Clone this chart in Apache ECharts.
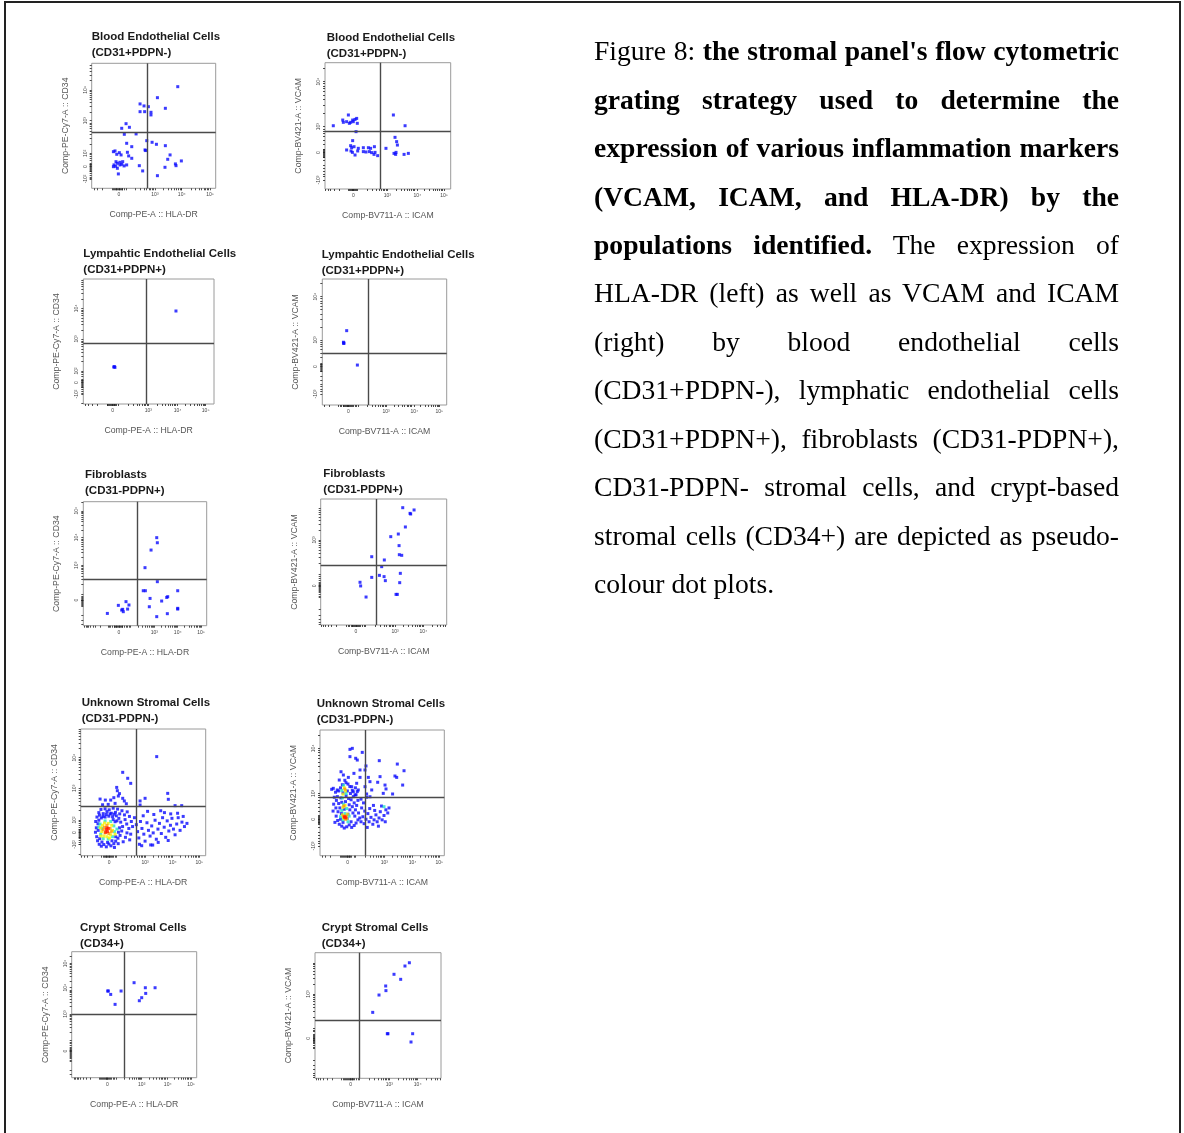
<!DOCTYPE html>
<html><head><meta charset="utf-8">
<script src="https://cdn.jsdelivr.net/npm/echarts@6/dist/echarts.min.js"></script>
<style>
html,body{margin:0;padding:0;background:#fff;}
#chart{position:absolute;left:0;top:0;width:1184px;height:1133px;}
#frame{position:absolute;left:4px;top:1px;width:1173px;height:1160px;border:2px solid #222;pointer-events:none;}
#cap{position:absolute;left:594px;top:27.3px;width:525px;font-family:'Liberation Serif','Times New Roman',serif;font-size:27.6px;color:#000;}
#cap div{height:48.45px;line-height:48.45px;text-align:justify;text-align-last:justify;white-space:nowrap;}
#cap div.last{text-align-last:left;}
</style></head>
<body>
<div id="chart"></div>
<div id="frame"></div>
<div id="cap">
<div>Figure 8: <b>the stromal panel's flow cytometric</b></div>
<div><b>grating strategy used to determine the</b></div>
<div><b>expression of various inflammation markers</b></div>
<div><b>(VCAM, ICAM, and HLA-DR) by the</b></div>
<div><b>populations identified.</b> The expression of</div>
<div>HLA-DR (left) as well as VCAM and ICAM</div>
<div>(right) by blood endothelial cells</div>
<div>(CD31+PDPN-), lymphatic endothelial cells</div>
<div>(CD31+PDPN+), fibroblasts (CD31-PDPN+),</div>
<div>CD31-PDPN- stromal cells, and crypt-based</div>
<div>stromal cells (CD34+) are depicted as pseudo-</div>
<div class="last">colour dot plots.</div>
</div>
<script>
// ---------- DATA (display-scale channel units, 0-100 along each axis) ----------
const labX4 = ['0','10³','10⁴','10⁵'];
const labX3 = ['0','10³','10⁴'];
const labYsmall = ['-10²','0','10²','10³','10⁴'];
const labYbig = ['-10³','0','10³','10⁴'];
const labY0to5 = ['0','10³','10⁴','10⁵'];
const labY2 = ['0','10³'];

// Panel 1: Blood endothelial, HLA-DR vs CD34
const becHlaXTicks = [22, 51, 72.6, 95.4];
const becHlaYTicks = [7.5, 17.3, 28, 54.1, 78.7];
const becHlaGate = [44.9, 44.5];
const becHlaPts = [[69.4,81.3],[53.0,72.5],[59.4,64.0],[39.0,67.5],[42.2,65.9],[45.7,65.3],[39.0,61.3],[42.7,61.3],[47.8,60.8],[47.8,58.7],[27.7,51.7],[24.2,48.0],[30.4,48.8],[26.3,43.2],[35.8,43.5],[44.4,38.1],[48.7,36.8],[52.2,35.2],[59.4,34.1],[28.2,36.0],[32.3,33.3],[43.0,30.7],[18.8,29.9],[17.5,29.3],[22.3,28.5],[20.2,27.2],[23.7,26.7],[28.8,28.8],[63.2,26.7],[61.3,23.2],[67.5,19.5],[72.3,21.9],[68.0,18.1],[32.3,24.0],[19.6,21.3],[22.8,20.8],[25.0,21.3],[20.7,20.0],[24.2,19.2],[18.0,18.7],[19.4,17.6],[22.8,18.7],[26.1,17.9],[28.2,18.7],[38.4,18.1],[41.1,13.9],[59.1,16.8],[17.5,17.3],[20.7,16.0],[21.5,11.5],[53.0,10.1],[29.8,25.9],[43.5,30.2]];

// Panel 2: Blood endothelial, ICAM vs VCAM
const becIcamXTicks = [22.5, 49.6, 73.5, 94.7];
const becIcamYTicks = [7.1, 28.8, 49.3, 85];
const becIcamGate = [44.3, 45.4];
const becIcamPts = [[6.6,50.1],[14.1,54.6],[14.6,52.8],[18.6,58.6],[17.2,53.3],[19.4,52.0],[20.4,52.8],[22.5,53.3],[23.9,55.1],[25.2,55.9],[25.7,52.0],[22.0,54.6],[24.7,45.4],[54.4,58.6],[63.7,50.1],[22.0,38.3],[55.7,40.9],[57.0,37.5],[57.6,34.8],[20.4,34.3],[21.2,32.7],[23.1,33.5],[17.2,30.9],[20.7,30.1],[21.8,29.0],[23.9,26.9],[26.5,32.2],[26.0,30.1],[30.5,32.7],[30.5,29.6],[32.6,29.3],[34.5,32.7],[36.3,32.2],[35.3,29.6],[37.1,28.8],[39.3,33.5],[39.8,29.0],[39.0,27.4],[41.9,26.4],[48.5,32.2],[54.9,28.2],[56.2,27.4],[56.5,29.0],[62.9,27.4],[66.3,28.2]];

// Panel 3: Lymphatic endothelial, HLA-DR vs CD34
const lecHlaXTicks = [22.4, 49.7, 72.2, 93.6];
const lecHlaYTicks = [8, 17.1, 26.4, 52, 76.5];
const lecHlaGate = [48.0, 48.5];
const lecHlaPts = [[70.9,74.4],[23.3,29.6],[23.8,29.9],[24.2,29.3]];

// Panel 4: Lymphatic endothelial, ICAM vs VCAM
const lecIcamXTicks = [20.9, 51.2, 74, 94.1];
const lecIcamYTicks = [8.7, 30.4, 51.6, 86];
const lecIcamGate = [37.0, 41.0];
const lecIcamPts = [[19.6,59.0],[17.0,49.8],[17.4,49.2],[17.2,48.8],[28.2,31.7]];

// Panel 5: Fibroblasts, HLA-DR vs CD34
const fibHlaXTicks = [28.9, 57.6, 76.5, 95.4];
const fibHlaYTicks = [20.7, 48.7, 71.2, 92.7];
const fibHlaGate = [44.1, 37.6];
const fibHlaPts = [[59.5,71.0],[60.0,66.9],[54.9,61.0],[50.0,46.8],[60.0,35.5],[48.6,28.2],[50.3,28.2],[76.5,28.2],[68.4,23.4],[67.6,22.8],[54.1,22.0],[63.5,19.9],[53.5,15.3],[76.5,14.0],[76.5,13.4],[68.1,9.7],[59.5,7.3],[34.6,19.4],[28.4,16.4],[37.0,16.7],[31.9,13.2],[32.4,11.3],[35.9,13.4],[19.5,9.9],[31.1,12.6]];

// Panel 6: Fibroblasts, ICAM vs VCAM
const fibIcamXTicks = [28.0, 59.0, 81.5];
const fibIcamYTicks = [31.0, 67.5];
const fibIcamGate = [43.7, 47.4];
const fibIcamPts = [[65.1,93.1],[74.1,91.3],[70.9,88.6],[71.4,88.1],[67.2,77.8],[61.6,72.2],[55.6,70.1],[62.2,63.0],[62.4,55.8],[64.3,55.3],[40.5,54.2],[50.5,51.6],[48.4,46.3],[46.6,39.4],[40.5,37.8],[50.3,38.4],[51.3,35.2],[63.2,41.0],[62.7,33.6],[31.2,33.9],[31.7,31.0],[36.0,22.2],[59.8,24.3],[60.8,24.3]];

// Panel 7: Unknown stromal, HLA-DR vs CD34 (pseudo-colour density levels)
const uscHlaXTicks = [22.7, 51.5, 73.6, 94.9];
const uscHlaYTicks = [8.9, 18.2, 28.2, 53.2, 77.4];
const uscHlaGate = [44.8, 38.7];
const uscHlaBlue = [[60.8,78.2],[33.6,65.8],[37.6,61.1],[40.0,57.1],[28.8,53.9],[29.3,51.3],[30.1,47.1],[33.6,45.3],[15.5,44.7],[19.7,43.9],[24.0,43.9],[34.9,43.2],[27.5,41.3],[47.5,43.2],[51.5,45.3],[69.6,49.2],[70.1,44.5],[75.5,39.5],[80.8,39.5],[26.5,45.8],[31.0,49.0],[22.0,40.5],[36.5,41.0],[17.5,40.2],[47.5,40.0],
[13.0,30.5],[14.5,34.0],[16.2,36.5],[18.0,33.2],[19.5,37.0],[21.0,34.8],[22.8,36.2],[24.5,33.5],[26.0,37.5],[27.8,34.2],[29.5,36.8],[31.2,33.0],[33.0,35.5],[35.0,32.2],[37.2,34.6],[39.0,31.0],
[12.0,27.0],[13.8,25.2],[12.5,22.0],[11.8,18.5],[12.8,15.0],[13.5,11.8],[14.8,9.0],[16.5,7.5],[18.5,8.8],[20.5,7.0],[22.5,9.2],[24.2,7.8],[26.5,9.5],[28.0,11.5],[29.8,13.8],[31.5,16.0],[32.8,19.5],[33.5,23.0],[32.0,26.5],[30.5,29.5],[28.5,31.5],[25.5,30.8],[22.5,31.2],[19.5,30.5],[16.5,29.8],[14.5,28.0],
[35.5,28.5],[36.8,25.0],[38.5,21.5],[37.0,18.0],[35.8,14.5],[34.0,11.0],[30.0,9.5],[27.0,6.5],[40.5,27.0],[41.5,23.0],[40.0,17.0],[39.2,12.5],
[15.0,32.0],[17.8,31.0],[20.5,32.5],[23.5,33.0],[26.8,32.8],[29.0,27.5],[31.0,22.0],[30.2,18.5],[27.5,26.8],[14.0,20.0],[15.2,13.5],[17.0,10.8],[21.5,10.5],[25.0,11.8],[28.0,15.0],[26.0,28.5],
[43.0,30.0],[44.5,24.5],[45.5,19.0],[46.5,14.0],[47.8,27.0],[49.0,21.5],[50.5,17.0],[51.5,11.5],[53.0,26.0],[54.2,20.0],[55.5,15.5],[56.8,23.5],[58.0,18.0],[59.5,28.0],[60.5,13.0],[61.8,21.0],[63.0,25.5],[64.5,17.5],[65.5,30.0],[66.8,22.5],[68.0,14.5],[69.2,27.5],[70.5,19.5],[71.8,24.0],[73.0,29.5],[74.2,21.0],[75.5,16.5],[76.8,25.0],[78.0,30.0],[79.5,20.0],[81.0,26.5],[83.0,23.0],[85.0,25.5],[72.0,33.0],[67.0,34.0],[58.5,32.5],[50.0,31.5],[62.0,10.5],[56.0,8.5],[47.0,9.0],[70.0,12.0],[77.5,33.5],[82.0,31.0],[64.0,35.5],[53.5,35.0],[48.8,7.9],[57.6,8.4]];
const uscHlaCyan = [[15.5,25.0],[17.0,21.5],[16.0,17.0],[18.0,13.5],[22.0,13.0],[25.5,15.0],[27.0,19.0],[26.5,23.5],[24.0,27.0],[19.5,27.5],[29.0,21.0],[14.5,22.5]];
const uscHlaYellow = [[17.5,24.0],[16.8,19.0],[18.5,15.5],[21.0,15.0],[24.0,16.5],[25.5,20.0],[24.8,24.0],[22.0,25.5],[19.0,25.8],[23.0,14.0],[16.0,15.5],[27.5,17.0],[15.8,22.0]];
const uscHlaOrange = [[19.0,22.5],[19.5,18.0],[22.5,17.5],[23.5,21.5],[21.0,24.0],[18.0,20.5],[24.5,19.0]];
const uscHlaRed = [[20.5,20.5],[21.5,19.0],[22.0,21.5],[20.0,18.5],[21.0,22.0]];

// Panel 8: Unknown stromal, ICAM vs VCAM
const uscIcamXTicks = [22.3, 51.7, 74.5, 96];
const uscIcamYTicks = [7.7, 28.9, 49.6, 85.4];
const uscIcamGate = [36.5, 46.4];
const uscIcamBlue = [[24.1,84.6],[26.0,85.4],[34.0,82.2],[24.1,78.8],[28.7,77.5],[30.0,76.1],[47.7,75.6],[62.2,72.9],[67.6,67.6],[60.3,63.4],[61.7,62.3],[37.0,71.4],[36.2,68.2],[32.2,68.2],[27.3,65.5],[16.9,66.8],[18.8,64.2],[22.8,62.3],[32.2,62.3],[38.9,62.3],[40.2,58.9],[46.4,58.4],[48.3,62.9],[52.3,56.2],[53.1,53.1],[58.4,49.1],[66.5,56.2],[50.9,49.6],[41.6,52.3],[36.2,54.9],[40.2,46.9],[37.5,49.1],[29.5,57.6],[30.8,52.3],[28.2,48.3],[10.7,53.6],[9.4,52.8],[13.9,52.3],[15.5,60.2],[20.9,58.1],[25.5,54.9],[26.8,50.9],
[12.5,50.5],[14.0,47.0],[13.2,44.0],[15.0,41.5],[12.8,38.0],[14.5,35.0],[13.0,31.5],[14.2,28.0],[15.5,25.0],[17.5,23.5],[19.5,22.0],[21.5,23.0],[23.5,24.5],[25.5,22.5],[27.5,24.0],[29.0,26.0],[30.5,28.5],[28.0,31.5],[26.5,34.0],[28.5,36.5],[26.0,39.0],[27.5,42.0],[25.0,44.5],[26.8,47.0],[24.5,49.5],[26.0,52.0],[24.0,55.0],[22.5,57.0],[18.0,56.5],[16.5,54.0],[15.0,51.5],[16.8,46.0],[17.5,42.5],[16.0,38.0],[17.2,33.5],[16.5,29.0],[23.5,40.5],[24.0,36.5],[22.5,33.0],[23.0,45.5],[21.0,47.5],[20.5,43.0],[19.5,37.0],[21.8,29.5],[18.5,26.5],[25.0,27.0],[11.5,46.5],[11.0,41.0],[10.5,35.5],[12.0,26.5],[29.5,40.0],[30.5,44.0],[29.0,48.5],[31.0,34.0],[32.0,30.0],[20.0,60.0],[22.0,51.5],[18.5,50.0],[28.5,54.0],[30.0,51.0],
[33.0,27.0],[34.5,31.0],[35.5,25.5],[37.0,29.0],[38.5,33.5],[39.5,27.0],[41.0,30.5],[42.5,25.0],[43.5,28.5],[45.0,32.5],[46.0,27.0],[47.5,30.0],[48.5,35.0],[50.0,28.5],[51.5,32.0],[53.0,36.5],[54.5,34.0],[55.5,38.0],[52.5,27.0],[44.0,36.0],[40.0,37.5],[36.0,35.5],[33.5,38.0],[47.0,23.5],[38.0,22.5],[49.5,39.5],[43.0,40.0],[35.0,42.0],[33.0,45.0],[37.5,46.5]];
const uscIcamCyan = [[19.0,56.0],[17.5,52.0],[21.0,49.5],[18.0,46.0],[19.0,41.0],[21.5,37.5],[17.5,36.0],[16.5,31.0],[23.5,31.5],[18.5,28.5],[22.5,27.0],[51.5,39.0],[20.0,33.5]];
const uscIcamYellow = [[19.5,54.0],[20.5,51.5],[18.5,49.0],[20.2,40.0],[18.5,38.5],[18.0,32.5],[22.0,33.0],[21.5,29.5],[19.0,30.0]];
const uscIcamOrange = [[20.0,53.0],[19.2,39.5],[19.0,31.5],[21.0,31.5],[20.5,29.0]];
const uscIcamRed = [[20.0,31.0],[20.8,30.2],[19.6,30.6]];

// Panel 9: Crypt stromal, HLA-DR vs CD34
const cscHlaXTicks = [28.5, 56, 76.8, 95.5];
const cscHlaYTicks = [21.2, 50.5, 71.4, 90.7];
const cscHlaGate = [42.1, 50.3];
const cscHlaPts = [[28.8,68.8],[29.3,68.8],[31.2,66.1],[39.5,68.8],[34.7,58.2],[49.9,75.4],[58.9,71.4],[66.7,71.4],[59.2,66.9],[56.0,63.5],[54.1,61.1]];

// Panel 10: Crypt stromal, ICAM vs VCAM
const cscIcamXTicks = [28.3, 59.0, 81.5];
const cscIcamYTicks = [31.8, 67.1];
const cscIcamGate = [35.2, 46.4];
const cscIcamPts = [[74.9,92.0],[71.4,89.4],[62.7,82.8],[68.0,78.8],[56.1,73.5],[56.3,69.8],[50.8,66.3],[45.8,52.5],[57.4,35.5],[57.9,35.5],[77.5,35.5],[76.2,28.9]];

// ---------- LAYOUT ----------
const HLA = 'Comp-PE-A :: HLA-DR', CD34 = 'Comp-PE-Cy7-A :: CD34';
const ICAM = 'Comp-BV711-A :: ICAM', VCAM = 'Comp-BV421-A :: VCAM';
const panels = [
 {t:'Blood Endothelial Cells\n(CD31+PDPN-)', tl:[91.7,36.7], g:[91.7,63.3,124,125], xn:HLA, yn:CD34, xt:becHlaXTicks, xl:labX4, yt:becHlaYTicks, yl:labYsmall, gate:becHlaGate, s:[becHlaPts]},
 {t:'Blood Endothelial Cells\n(CD31+PDPN-)', tl:[326.7,38.3], g:[325,62.7,125.7,126.3], xn:ICAM, yn:VCAM, xt:becIcamXTicks, xl:labX4, yt:becIcamYTicks, yl:labYbig, gate:becIcamGate, s:[becIcamPts]},
 {t:'Lympahtic Endothelial Cells\n(CD31+PDPN+)', tl:[83.3,254], g:[83.3,279,130.7,125], xn:HLA, yn:CD34, xt:lecHlaXTicks, xl:labX4, yt:lecHlaYTicks, yl:labYsmall, gate:lecHlaGate, s:[lecHlaPts]},
 {t:'Lympahtic Endothelial Cells\n(CD31+PDPN+)', tl:[321.7,255], g:[322.3,279,124.4,126], xn:ICAM, yn:VCAM, xt:lecIcamXTicks, xl:labX4, yt:lecIcamYTicks, yl:labYbig, gate:lecIcamGate, s:[lecIcamPts]},
 {t:'Fibroblasts\n(CD31-PDPN+)', tl:[85,475], g:[83.3,501.7,123.4,124], xn:HLA, yn:CD34, xt:fibHlaXTicks, xl:labX4, yt:fibHlaYTicks, yl:labY0to5, gate:fibHlaGate, s:[fibHlaPts]},
 {t:'Fibroblasts\n(CD31-PDPN+)', tl:[323.3,474], g:[320.7,499,126,126], xn:ICAM, yn:VCAM, xt:fibIcamXTicks, xl:labX3, yt:fibIcamYTicks, yl:labY2, gate:fibIcamGate, s:[fibIcamPts]},
 {t:'Unknown Stromal Cells\n(CD31-PDPN-)', tl:[81.7,703.3], g:[80.7,729,125,126.7], xn:HLA, yn:CD34, xt:uscHlaXTicks, xl:labX4, yt:uscHlaYTicks, yl:labYsmall, gate:uscHlaGate, s:[uscHlaBlue,uscHlaCyan,uscHlaYellow,uscHlaOrange,uscHlaRed]},
 {t:'Unknown Stromal Cells\n(CD31-PDPN-)', tl:[316.7,704], g:[320,730,124.3,125.7], xn:ICAM, yn:VCAM, xt:uscIcamXTicks, xl:labX4, yt:uscIcamYTicks, yl:labYbig, gate:uscIcamGate, s:[uscIcamBlue,uscIcamCyan,uscIcamYellow,uscIcamOrange,uscIcamRed]},
 {t:'Crypt Stromal Cells\n(CD34+)', tl:[80,928.3], g:[71.7,951.7,125,126], xn:HLA, yn:CD34, xt:cscHlaXTicks, xl:labX4, yt:cscHlaYTicks, yl:labY0to5, gate:cscHlaGate, s:[cscHlaPts]},
 {t:'Crypt Stromal Cells\n(CD34+)', tl:[321.7,928.3], g:[315,952.7,126,125.6], xn:ICAM, yn:VCAM, xt:cscIcamXTicks, xl:labX3, yt:cscIcamYTicks, yl:labY2, gate:cscIcamGate, s:[cscIcamPts]}
];
const densityColors = ['#0a0aff','#22e0c8','#f2f200','#ff9a00','#ff1a00'];

function tickSet(majors, labels){
  const vals = majors.slice();
  const dec = [];
  labels.forEach((l,i)=>{ if (/^10/.test(l)) dec.push(majors[i]); });
  const zi = labels.indexOf('0');
  const z = majors[zi];
  let w = 26;
  if (dec.length >= 2) w = (dec[dec.length-1]-dec[0])/(dec.length-1);
  const first = dec.length ? dec[0] : z + 28;
  for (let k=-3;k<=3;k++){
    const base = first + k*w;
    for (let m=2;m<=9;m++){
      const v = base + w*Math.log10(m);
      if (v > z+4 && v < 100) { vals.push(v); const nv = 2*z - v; if (nv > 0 && nv < z-4) vals.push(nv); }
    }
  }
  for (let v = z-4; v <= z+3.5; v += 0.7) if (v>0) vals.push(v);
  return vals;
}
function labeler(majors, labels){
  return function(v){
    let bi=-1, bd=1e9;
    majors.forEach((m,i)=>{const d=Math.abs(m-v); if(d<bd){bd=d;bi=i;}});
    return bd < 0.01 ? labels[bi] : '';
  };
}

const option = {animation:false, backgroundColor:'#fff', title:[], grid:[], xAxis:[], yAxis:[], series:[]};
panels.forEach((p,i)=>{
  option.title.push({text:p.t, left:p.tl[0], top:p.tl[1]-8, padding:0,
    textStyle:{fontFamily:'Liberation Sans, Arial, sans-serif', fontSize:11.5, fontWeight:'bold', color:'#1a1a1a', lineHeight:16}});
  option.grid.push({left:p.g[0], top:p.g[1], width:p.g[2], height:p.g[3], show:true, borderColor:'#9a9a9a', borderWidth:1, backgroundColor:'#fff', containLabel:false});
  const axCommon = {type:'value', min:0, max:100, splitLine:{show:false}, axisLine:{show:false},
    nameLocation:'middle', nameTextStyle:{fontFamily:'Liberation Sans, Arial, sans-serif', fontSize:8.7, color:'#555'}};
  option.xAxis.push(Object.assign({}, axCommon, {gridIndex:i, name:p.xn, nameGap:22,
    axisTick:{show:true, customValues:tickSet(p.xt,p.xl), length:2, lineStyle:{color:'#222', width:0.8}},
    axisLabel:{show:true, customValues:p.xt, formatter:labeler(p.xt,p.xl), fontSize:5, color:'#444', margin:4, fontFamily:'Liberation Sans, Arial'}}));
  option.yAxis.push(Object.assign({}, axCommon, {gridIndex:i, name:p.yn, nameGap:22,
    axisTick:{show:true, customValues:tickSet(p.yt,p.yl), length:2, lineStyle:{color:'#222', width:0.8}},
    axisLabel:{show:true, customValues:p.yt, formatter:labeler(p.yt,p.yl), fontSize:5, color:'#444', margin:4, rotate:90, fontFamily:'Liberation Sans, Arial'}}));
  p.s.forEach((d,k)=>{
    const ser = {type:'scatter', xAxisIndex:i, yAxisIndex:i, data:d, symbol:'rect', symbolSize:3,
      itemStyle:{color:densityColors[k]}, silent:true, z:2+k};
    if (k===0) ser.markLine = {silent:true, symbol:'none', animation:false, label:{show:false},
      lineStyle:{color:'#4a4a4a', width:1.4, type:'solid'}, data:[{xAxis:p.gate[0]},{yAxis:p.gate[1]}], z:10};
    option.series.push(ser);
  });
});
const chart = echarts.init(document.getElementById('chart'), null, {renderer:'canvas'});
chart.setOption(option);
</script>
</body></html>
